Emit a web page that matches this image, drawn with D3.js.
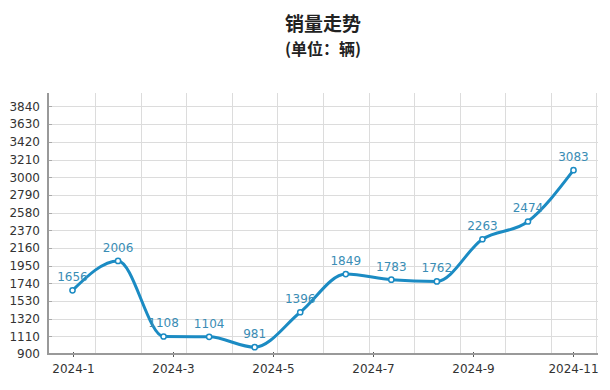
<!DOCTYPE html>
<head>
  <meta charset="utf-8">
  <script src="https://d3js.org/d3.v7.min.js"></script>
  <style>
    body { margin:0; background:#fff; }
    .grid line { stroke:#dcdcdc; stroke-width:1px; }
    .axis text { font-family:"DejaVu Sans", Verdana, sans-serif; font-size:12px; fill:#333; }
    .label { font-family:"DejaVu Sans", Verdana, sans-serif; font-size:12px; fill:#3a8db5; }
  </style>
</head>
<body>
<script>
    // data
    var sales = [1656, 2006, 1108, 1104, 981, 1396, 1849, 1783, 1762, 2263, 2474, 3083];
    var tickLabels = ["2024-1", "2024-3", "2024-5", "2024-7", "2024-9", "2024-11"];
    var yTicks = [900, 1110, 1320, 1530, 1740, 1950, 2160, 2370, 2580, 2790, 3000, 3210, 3420, 3630, 3840];

    var width = 610, height = 390;
    var plot = {left: 48, right: 598, top: 93, bottom: 354};

    var svg = d3.select("body").append("svg")
        .attr("width", width)
        .attr("height", height);

    // points sit in the middle of each grid column
    var x = d3.scalePoint()
        .domain(d3.range(sales.length))
        .range([72.5, 573.5]);
    var step = x.step();

    // label axis runs on its own spacing
    var xl = d3.scalePoint()
        .domain(tickLabels)
        .range([73, 573]);

    var y = d3.scaleLinear()
        .domain([900, 4000])
        .range([plot.bottom, plot.top]);

    // grid
    var grid = svg.append("g").attr("class", "grid");
    grid.selectAll(".h").data(yTicks).enter().append("line")
        .attr("x1", plot.left).attr("x2", plot.right)
        .attr("y1", function(d) { return Math.round(y(d)) + 0.5; })
        .attr("y2", function(d) { return Math.round(y(d)) + 0.5; });
    var bounds = d3.range(sales.length + 1).map(function(i) { return x(0) - step / 2 + i * step; });
    grid.selectAll(".v").data(bounds.slice(1)).enter().append("line")
        .attr("x1", function(d) { return Math.round(d) + 0.5; })
        .attr("x2", function(d) { return Math.round(d) + 0.5; })
        .attr("y1", plot.top).attr("y2", plot.bottom);

    // y axis labels
    var ya = svg.append("g").attr("class", "axis");
    ya.selectAll("text").data(yTicks).enter().append("text")
        .attr("x", 40)
        .attr("y", function(d) { return y(d); })
        .attr("dy", "0.36em")
        .attr("text-anchor", "end")
        .text(function(d) { return d; });
    ya.selectAll(".tk").data(yTicks).enter().append("line")
        .attr("x1", plot.left).attr("x2", plot.left + 4)
        .attr("y1", function(d) { return Math.round(y(d)) + 0.5; })
        .attr("y2", function(d) { return Math.round(y(d)) + 0.5; })
        .attr("stroke", "#aaa");

    // x axis
    var xa = svg.append("g")
        .attr("class", "axis")
        .attr("transform", "translate(0," + plot.bottom + ")")
        .call(d3.axisBottom(xl).tickSize(4).tickSizeOuter(0));
    xa.select(".domain").remove();
    xa.selectAll(".tick line").attr("stroke", "#555").attr("y1", -2).attr("y2", 3);
    xa.selectAll(".tick text").attr("y", 10);

    // axis lines
    svg.append("line")
        .attr("x1", plot.left).attr("x2", plot.left)
        .attr("y1", plot.top).attr("y2", plot.bottom + 1)
        .attr("stroke", "#999").attr("stroke-width", 2);
    svg.append("line")
        .attr("x1", plot.left - 1).attr("x2", plot.right)
        .attr("y1", plot.bottom).attr("y2", plot.bottom)
        .attr("stroke", "#999").attr("stroke-width", 2);

    // line
    var line = d3.line()
        .x(function(d, i) { return x(i); })
        .y(function(d) { return y(d); })
        .curve(d3.curveMonotoneX);

    svg.append("path")
        .datum(sales)
        .attr("d", line)
        .attr("fill", "none")
        .attr("stroke", "#1b8bc3")
        .attr("stroke-width", 3);

    svg.selectAll(".dot").data(sales).enter().append("circle")
        .attr("cx", function(d, i) { return x(i); })
        .attr("cy", function(d) { return y(d); })
        .attr("r", 2.6)
        .attr("fill", "#fff")
        .attr("stroke", "#1b8bc3")
        .attr("stroke-width", 1.5);

    svg.selectAll(".label").data(sales).enter().append("text")
        .attr("class", "label")
        .attr("x", function(d, i) { return x(i); })
        .attr("y", function(d) { return y(d) - 9; })
        .attr("text-anchor", "middle")
        .text(function(d) { return d; });

    // titles
    svg.append("text")
        .attr("x", (plot.left + plot.right) / 2)
        .attr("y", 31)
        .attr("text-anchor", "middle")
        .style("font-family", "'Noto Sans CJK SC', sans-serif")
        .style("font-size", "19px")
        .style("font-weight", "bold")
        .style("fill", "#222")
        .text("销量走势");
    svg.append("text")
        .attr("x", (plot.left + plot.right) / 2)
        .attr("y", 55)
        .attr("text-anchor", "middle")
        .style("font-family", "'Noto Sans CJK SC', sans-serif")
        .style("font-size", "16px")
        .style("font-weight", "bold")
        .style("fill", "#222")
        .text("(单位：辆)");
</script>
</body>
